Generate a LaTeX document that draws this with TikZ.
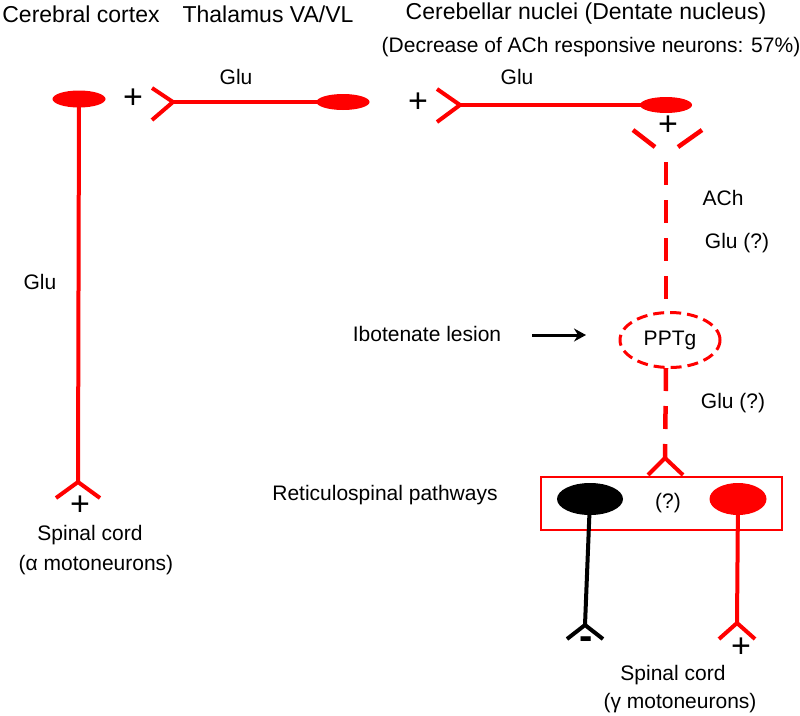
\documentclass[tikz,border=0pt]{standalone}
\usepackage{fontspec}
\setmainfont{Liberation Sans}
\usetikzlibrary{shapes.geometric,arrows.meta}
\definecolor{nred}{RGB}{255,0,0}
\begin{document}
\begin{tikzpicture}[x=1pt,y=-1pt,
  soma/.style={ellipse, fill=nred, inner sep=0pt},
  axon/.style={draw=nred, line width=4pt},
  baxon/.style={draw=black, line width=4pt},
  dax/.style={draw=nred, line width=4.5pt, dash pattern=on 23pt off 15pt},
  lbl/.style={font=\fontsize{21}{25}\selectfont, inner sep=0pt},
  big/.style={font=\fontsize{23}{27}\selectfont, inner sep=0pt},
  sgn/.style={font=\fontsize{34}{36}\selectfont, inner sep=0pt}]
\useasboundingbox (0,0) rectangle (800,715);

% titles
\node[big] (tctx) at (81,14) {Cerebral cortex};
\node[big] (tthal) at (268,14) {Thalamus VA/VL};
\node[big] (tcbn) at (586,14) {Cerebellar nuclei (Dentate nucleus)};
\node[lbl] (tdec) at (591,47) {(Decrease of ACh responsive neurons: 57\%)};

% cortex neuron
\node[soma, minimum width=53, minimum height=17] (ctx) at (79,99) {};
\coordinate (ctxT) at (78,482);
\draw[axon] (ctx.center) -- (ctxT);
\draw[axon] (ctxT) -- ++(-22,16) (ctxT) -- ++(22,16);
\node[lbl] (gluL) at (40,282) {Glu};
\node[sgn] (pL) at (80,506) {+};
\node[lbl] (sc1) at (90,535) {Spinal cord};
\node[lbl] (sc1b) at (96,565) {(α motoneurons)};

% thalamus neuron
\node[soma, minimum width=53, minimum height=16] (thal) at (343,102) {};
\coordinate (thalT) at (173,102);
\draw[axon] (thal.center) -- (thalT);
\draw[axon] (thalT) -- ++(-21,-14) (thalT) -- ++(-21,18);
\node[sgn] (pT) at (133,99) {+};
\node[lbl] (gluT) at (236,77) {Glu};

% cerebellar neuron
\node[soma, minimum width=52, minimum height=16] (cbn) at (666,105) {};
\coordinate (cbnT) at (460,105);
\draw[axon] (cbn.center) -- (cbnT);
\draw[axon] (cbnT) -- ++(-23,-16) (cbnT) -- ++(-23,17);
\node[sgn] (pC) at (418,103) {+};
\node[lbl] (gluC) at (517,77) {Glu};

% cerebellar -> PPTg
\node[sgn] (pP) at (668,126) {+};
\draw[draw=nred, line width=4.5pt] (633,130) -- (655,147) (702,130) -- (678,147);
\coordinate (vstart) at (666,162);
\node[draw=nred, dashed, dash pattern=on 11pt off 6pt, line width=3pt, ellipse,
      minimum width=100, minimum height=55, inner sep=0pt] (pptg) at (670,340) {};
\node[lbl] at (pptg.center) {PPTg};
\draw[dax] (vstart) -- (666,312);
\node[lbl] (ach) at (723,198) {ACh};
\node[lbl] (glu1) at (737,243) {Glu (?)};

% lesion arrow
\node[lbl] (ibo) at (427,334) {Ibotenate lesion};
\coordinate (arrS) at (532,335);
\coordinate (arrE) at (586,335);
\draw[line width=3pt, -{Stealth[length=12pt,width=13pt,inset=4pt]}] (arrS) -- (arrE);

% PPTg -> reticulospinal
\coordinate (apex) at (665,458);
\draw[dax] (666,368) -- (apex);
\draw[axon] (648,475) -- (apex) -- (683,475);
\node[lbl] (glu2) at (733,403) {Glu (?)};

% reticulospinal box
\node[draw=nred, line width=1.2pt, minimum width=241, minimum height=53, inner sep=0pt] (ret) at (661.5,503.5) {};
\node[lbl] (retl) at (385,495) {Reticulospinal pathways};
\node[lbl] (q) at (668,503) {(?)};
\node[ellipse, fill=black, inner sep=0pt, minimum width=66, minimum height=32] (blk) at (590,499) {};
\node[soma, minimum width=57, minimum height=32] (red) at (738,499) {};

\coordinate (blkT) at (585,625);
\draw[baxon] (blk.center) -- (blkT);
\draw[baxon] (blkT) -- ++(-18,14) (blkT) -- ++(18,14);
\node[font=\fontsize{40}{40}\selectfont\bfseries, inner sep=0pt] (mB) at (586,643) {-};

\coordinate (redT) at (737,623);
\draw[axon] (red.center) -- (redT);
\draw[axon] (redT) -- ++(-18,16) (redT) -- ++(18,16);
\node[sgn] (pR) at (741,648) {+};

\node[lbl] (sc2) at (673,675) {Spinal cord};
\node[lbl] (sc2b) at (680,703) {(γ motoneurons)};
\end{tikzpicture}
\end{document}
